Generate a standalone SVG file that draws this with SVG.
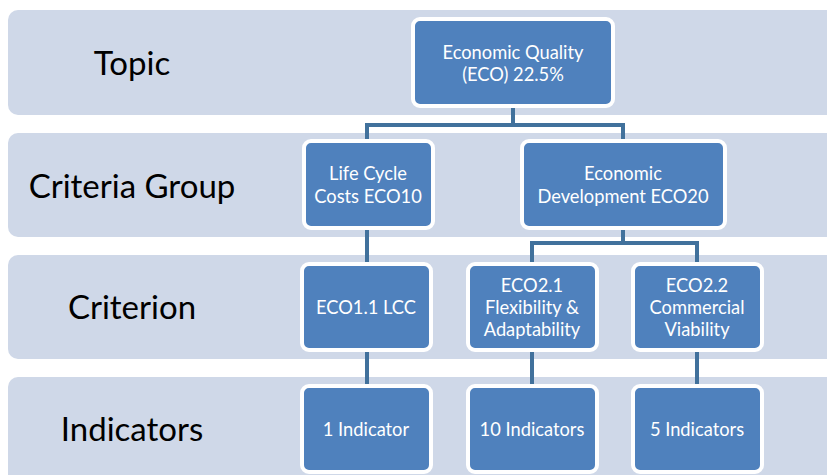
<svg xmlns="http://www.w3.org/2000/svg" width="827" height="475" viewBox="0 0 827 475">
<style>
.band{fill:#CFD8E8}
.lbl{font-family:Lato,"Liberation Sans",sans-serif;font-size:33px;fill:#000;text-anchor:middle;dominant-baseline:central}
.node rect{fill:#4F81BD;stroke:#fff;stroke-width:4}
.node text{font-family:Lato,"Liberation Sans",sans-serif;font-size:18.3px;fill:#fff;text-anchor:middle;dominant-baseline:central}
.conn path{fill:none;stroke:#41719C;stroke-width:4}
</style>
<rect width="827" height="475" fill="#fff"/>
<g id="bands">
<rect class="band" x="8" y="10" width="840" height="105" rx="10"/>
<rect class="band" x="8" y="133" width="840" height="104" rx="10"/>
<rect class="band" x="8" y="255" width="840" height="104" rx="10"/>
<rect class="band" x="8" y="377" width="840" height="120" rx="10"/>
<text class="lbl" x="132" y="62">Topic</text>
<text class="lbl" x="132" y="185">Criteria Group</text>
<text class="lbl" x="132" y="306">Criterion</text>
<text class="lbl" x="132" y="428">Indicators</text>
</g>
<g id="connectors" class="conn">
<path d="M513,106 V125 M367,125 H623 M367,123 V141 M623,123 V141"/>
<path d="M367,228 V264"/>
<path d="M623,228 V243 M532,243 H697 M532,241 V264 M697,241 V264"/>
<path d="M367,350 V386 M532,350 V386 M697,350 V386"/>
</g>
<g id="n-topic" class="node"><rect x="413" y="19" width="200" height="87" rx="7"/><text x="513" y="52">Economic Quality</text><text x="513" y="74">(ECO) 22.5%</text></g>
<g id="n-lcc-group" class="node"><rect x="304" y="141" width="129" height="87" rx="7"/><text x="368" y="173">Life Cycle</text><text x="368" y="196">Costs ECO10</text></g>
<g id="n-eco-dev" class="node"><rect x="522" y="141" width="203" height="87" rx="7"/><text x="623" y="173">Economic</text><text x="623" y="196">Development ECO20</text></g>
<g id="n-eco11" class="node"><rect x="302" y="264" width="129" height="86" rx="7"/><text x="366" y="307">ECO1.1 LCC</text></g>
<g id="n-eco21" class="node"><rect x="468" y="264" width="129" height="86" rx="7"/><text x="532" y="285">ECO2.1</text><text x="532" y="307">Flexibility &amp;</text><text x="532" y="329">Adaptability</text></g>
<g id="n-eco22" class="node"><rect x="633" y="264" width="129" height="86" rx="7"/><text x="697" y="285">ECO2.2</text><text x="697" y="307">Commercial</text><text x="697" y="329">Viability</text></g>
<g id="n-ind1" class="node"><rect x="302" y="386" width="129" height="86" rx="7"/><text x="366" y="429">1 Indicator</text></g>
<g id="n-ind10" class="node"><rect x="468" y="386" width="129" height="86" rx="7"/><text x="532" y="429">10 Indicators</text></g>
<g id="n-ind5" class="node"><rect x="633" y="386" width="129" height="86" rx="7"/><text x="697" y="429">5 Indicators</text></g>
</svg>
